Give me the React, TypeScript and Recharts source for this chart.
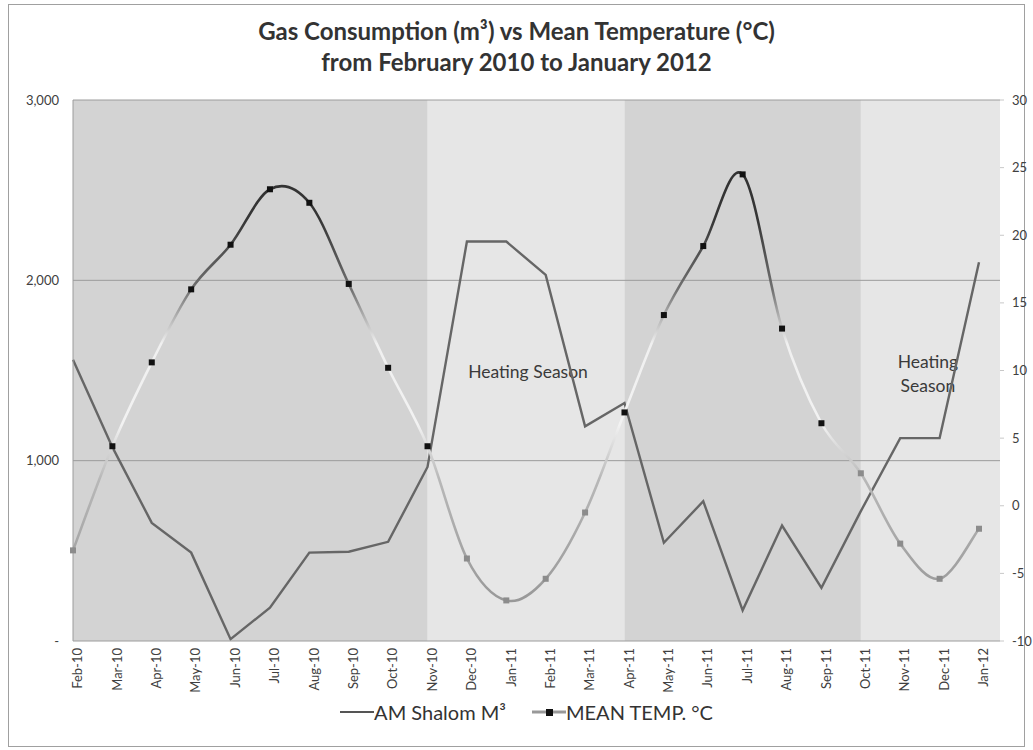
import React from 'react'
import { LineChart, Line, XAxis, YAxis, CartesianGrid, ReferenceArea, ReferenceLine, Legend } from 'recharts'

const months = [
  'Feb-10', 'Mar-10', 'Apr-10', 'May-10', 'Jun-10', 'Jul-10', 'Aug-10', 'Sep-10', 'Oct-10', 'Nov-10', 'Dec-10', 'Jan-11',
  'Feb-11', 'Mar-11', 'Apr-11', 'May-11', 'Jun-11', 'Jul-11', 'Aug-11', 'Sep-11', 'Oct-11', 'Nov-11', 'Dec-11', 'Jan-12',
]
const gasM3 = [1560, 1075, 655, 490, 10, 185, 490, 495, 550, 965, 2215, 2215, 2030, 1190, 1320, 545, 775, 170, 640, 295, 720, 1125, 1125, 2100]
const meanTemp = [-3.3, 4.4, 10.6, 16.0, 19.3, 23.4, 22.4, 16.4, 10.2, 4.4, -3.9, -7.0, -5.4, -0.5, 6.9, 14.1, 19.2, 24.5, 13.1, 6.1, 2.4, -2.8, -5.4, -1.7]
const gasTicks = [0, 1000, 2000, 3000]
const tempTicks = [-10, -5, 0, 5, 10, 15, 20, 25, 30]

// summer stretches get the darker band, heating seasons stay light
const summerBands = [['Feb-10', 'Nov-10'], ['Apr-11', 'Oct-11']]
const heatingBands = [['Nov-10', 'Apr-11'], ['Oct-11', 'Jan-12']]

const data = months.map((month, i) => ({ month, gas: gasM3[i], temp: meanTemp[i] }))

const FONT = 'Lato, "Open Sans", sans-serif'

// excel-ish smoothed line (catmull-rom as cubic beziers)
const excelSmooth = (context: any) => {
  let pts: number[][] = []
  return {
    areaStart() {},
    areaEnd() {},
    lineStart() { pts = [] },
    point(x: number, y: number) { pts.push([+x, +y]) },
    lineEnd() {
      if (!pts.length) return
      context.moveTo(pts[0][0], pts[0][1])
      for (let i = 0; i < pts.length - 1; i++) {
        const p0 = pts[Math.max(i - 1, 0)]
        const p1 = pts[i]
        const p2 = pts[i + 1]
        const p3 = pts[Math.min(i + 2, pts.length - 1)]
        context.bezierCurveTo(
          p1[0] + (p2[0] - p0[0]) / 6, p1[1] + (p2[1] - p0[1]) / 6,
          p2[0] - (p3[0] - p1[0]) / 6, p2[1] - (p3[1] - p1[1]) / 6,
          p2[0], p2[1],
        )
      }
    },
  }
}

const tempDot = (props: any) => {
  const { cx, cy, value, index } = props
  if (cx == null || cy == null) return <g key={`td-${index}`} />
  return <rect key={`td-${index}`} x={cx - 3} y={cy - 3} width={6} height={6} fill={value >= 4 ? '#111' : '#8c8c8c'} />
}

const seasonLabel = (lines: string[], dx: number, top: number) => (props: any) => {
  const vb = props.viewBox || {}
  const cx = vb.x + vb.width / 2 + dx
  return (
    <text x={cx} y={vb.y + top} textAnchor="middle" fontFamily={FONT} fontSize={17.5} fill="#3a3a3a">
      {lines.map((l, i) => (
        <tspan key={l} x={cx} dy={i === 0 ? 0 : 24}>{l}</tspan>
      ))}
    </text>
  )
}

const LegendContent = () => (
  <div style={{ display: 'flex', justifyContent: 'center', alignItems: 'center', gap: 26, fontFamily: FONT, fontSize: 20, color: '#333' }}>
    <span style={{ display: 'flex', alignItems: 'center' }}>
      <svg width={34} height={10}><line x1={0} y1={5} x2={34} y2={5} stroke="#555" strokeWidth={2} /></svg>
      AM Shalom M³
    </span>
    <span style={{ display: 'flex', alignItems: 'center' }}>
      <svg width={34} height={10}>
        <line x1={0} y1={5} x2={34} y2={5} stroke="#999" strokeWidth={3} />
        <rect x={14} y={2} width={7} height={7} fill="#111" />
      </svg>
      MEAN TEMP. °C
    </span>
  </div>
)

export default function App() {
  return (
    <div style={{ position: 'relative', width: 1033, height: 750, background: '#fff' }}>
      <style>{'body{margin:0}'}</style>
      <div style={{ position: 'absolute', left: 8, top: 4, width: 1015, height: 741, border: '1px solid #a0a0a0' }} />
      <div style={{ position: 'absolute', left: 0, top: 15, width: 1033, textAlign: 'center', fontFamily: FONT, fontWeight: 700, fontSize: 24, lineHeight: '31px', color: '#333' }}>
        Gas Consumption (m³) vs Mean Temperature (°C)<br />from February 2010 to January 2012
      </div>
      <div style={{ position: 'absolute', left: 0, top: 0 }}>
        <LineChart width={1033} height={750} data={data} margin={{ top: 100, right: 0, bottom: 13, left: 0 }}>
          <defs>
            <linearGradient id="tempStroke" gradientUnits="userSpaceOnUse" x1="0" y1="100" x2="0" y2="641">
              <stop offset="0" stopColor="#2b2b2b" />
              <stop offset="0.22" stopColor="#363636" />
              <stop offset="0.35" stopColor="#707070" />
              <stop offset="0.45" stopColor="#f0f0f0" />
              <stop offset="0.6" stopColor="#f2f2f2" />
              <stop offset="0.7" stopColor="#b8b8b8" />
              <stop offset="1" stopColor="#8e8e8e" />
            </linearGradient>
          </defs>
          <CartesianGrid yAxisId="gas" horizontal={false} vertical={false} fill="#e6e6e6" fillOpacity={1} />
          {summerBands.map(([a, b]) => (
            <ReferenceArea key={a} yAxisId="gas" x1={a} x2={b} fill="#d3d3d3" fillOpacity={1} stroke="none" />
          ))}
          <ReferenceArea yAxisId="gas" x1={heatingBands[0][0]} x2={heatingBands[0][1]} fill="#e6e6e6" fillOpacity={1} stroke="none"
            label={seasonLabel(['Heating Season'], 2, 278)} />
          <ReferenceArea yAxisId="gas" x1={heatingBands[1][0]} x2={heatingBands[1][1]} fill="#e6e6e6" fillOpacity={1} stroke="none"
            label={seasonLabel(['Heating', 'Season'], 8, 268)} />
          {gasTicks.slice(1).map((v) => (
            <ReferenceLine key={v} yAxisId="gas" y={v} stroke="#9c9c9c" strokeWidth={1} />
          ))}
          <XAxis dataKey="month" interval={0} height={60} padding={{ left: 0, right: 21 }}
            axisLine={{ stroke: '#9c9c9c' }} tickLine={false} tickSize={0} tickMargin={7}
            tick={{ angle: -90, textAnchor: 'end', verticalAnchor: 'middle', fontSize: 13, fontFamily: FONT, fill: '#404040' } as any} />
          <YAxis yAxisId="gas" orientation="left" width={73} domain={[0, 3000]} ticks={gasTicks} interval={0}
            tickFormatter={(v: number) => (v === 0 ? '-' : v.toLocaleString('en-US'))}
            axisLine={{ stroke: '#9c9c9c' }} tickLine={false} tickSize={0} tickMargin={14}
            tick={{ fontSize: 13, fontFamily: FONT, fill: '#404040' }} />
          <YAxis yAxisId="temp" orientation="right" width={33} domain={[-10, 30]} ticks={tempTicks} interval={0}
            axisLine={false} tickLine={{ stroke: '#c8c8c8' }} tickSize={4} tickMargin={8}
            tick={{ fontSize: 13, fontFamily: FONT, fill: '#404040', textAnchor: 'start' }} />
          <Legend verticalAlign="bottom" height={36} content={<LegendContent />}
            wrapperStyle={{ left: 63, width: 927, top: 700 }} />
          <Line yAxisId="gas" dataKey="gas" name="AM Shalom M³" type="linear" stroke="#666" strokeWidth={2.4}
            dot={false} activeDot={false} isAnimationActive={false} />
          <Line yAxisId="temp" dataKey="temp" name="MEAN TEMP. °C" type={excelSmooth as any} stroke="url(#tempStroke)" strokeWidth={2.6}
            dot={tempDot} activeDot={false} isAnimationActive={false} />
        </LineChart>
      </div>
    </div>
  )
}
